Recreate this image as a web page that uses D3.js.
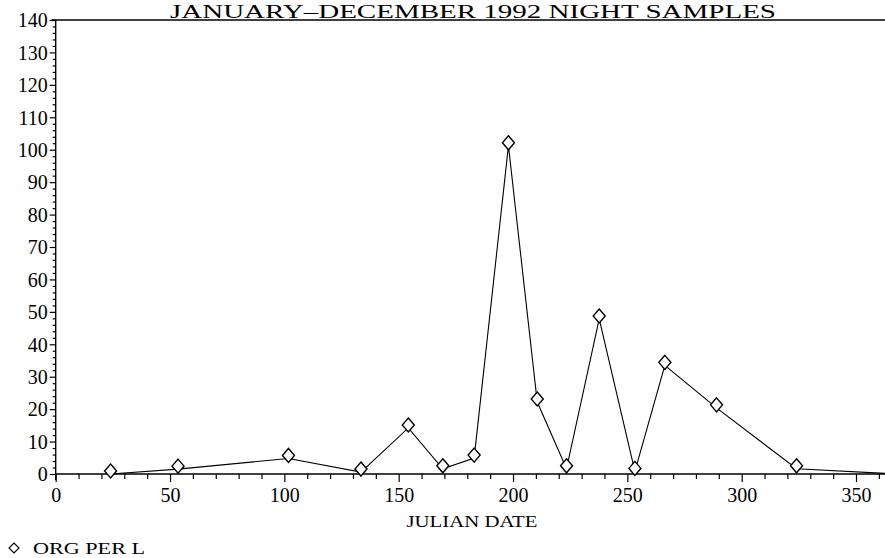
<!DOCTYPE html>
<html>
<head>
<meta charset="utf-8">
<script src="https://cdn.jsdelivr.net/npm/d3@7"></script>
<style>
  body { margin: 0; background: #fff; }
  text { font-family: "Liberation Serif", "DejaVu Serif", serif; fill: #000; }
</style>
</head>
<body>
<svg id="chart" width="885" height="558"></svg>
<script>
// julian day of each night sample, and organisms per litre
var days   = [24, 53.5, 101.8, 133.5, 154.2, 169.3, 183, 198, 210.6, 223.4, 237.7, 253.3, 266.4, 289, 324, 368];
var values = [0, 1.5, 4.8, 0.6, 14.2, 1.6, 4.9, 101.2, 22.2, 1.6, 47.8, 0.8, 33.5, 20.4, 1.6, 0];
var xTicks = [0, 50, 100, 150, 200, 250, 300, 350];
var yTicks = d3.range(0, 141, 10);

var title = 'JANUARY\u2013DECEMBER 1992 NIGHT SAMPLES';
var xTitle = 'JULIAN DATE';
var legendLabel = 'ORG PER L';

var svg = d3.select('#chart');
var x0 = 55.7, yBase = 474, yTop = 20;

var x = d3.scaleLinear().domain([0, 350]).range([x0, 856]);
var y = d3.scaleLinear().domain([0, 140]).range([yBase, yTop]);

// title
svg.append('text')
	.attr('x', 473).attr('y', 18)
	.attr('text-anchor', 'middle')
	.attr('textLength', 606)
	.attr('lengthAdjust', 'spacingAndGlyphs')
	.style('font-size', '19px')
	.text(title);

// frame lines
svg.append('line').attr('x1', x0 - 4).attr('x2', 885).attr('y1', yTop).attr('y2', yTop)
	.attr('stroke', '#000').attr('stroke-width', 1.6);
svg.append('line').attr('x1', x0).attr('x2', 885).attr('y1', yBase).attr('y2', yBase)
	.attr('stroke', '#000').attr('stroke-width', 1.6);
svg.append('line').attr('x1', x0).attr('x2', x0).attr('y1', yTop).attr('y2', yBase + 6)
	.attr('stroke', '#000').attr('stroke-width', 1.4);

// y axis
var yAxis = d3.axisLeft(y).tickValues(yTicks).tickSize(6).tickPadding(2);
var gy = svg.append('g').attr('transform', 'translate(' + x0 + ',0)').call(yAxis);
gy.select('.domain').remove();
gy.selectAll('text').style('font-size', '20px').style('font-family', '"Liberation Serif", serif').attr('dy', '0.34em');

var yMinor = d3.axisLeft(y).tickValues(d3.range(0, 141, 2).filter(d => d % 10)).tickSize(3).tickFormat('');
var gym = svg.append('g').attr('transform', 'translate(' + x0 + ',0)').call(yMinor);
gym.select('.domain').remove();

// x axis
var xAxis = d3.axisBottom(x).tickValues(xTicks).tickSize(8).tickPadding(6);
var gx = svg.append('g').attr('transform', 'translate(0,' + yBase + ')').call(xAxis);
gx.select('.domain').remove();
gx.selectAll('text').style('font-size', '20px').style('font-family', '"Liberation Serif", serif');

var xMinor = d3.axisBottom(x).tickValues(d3.range(10, 361, 10).filter(d => d % 50)).tickSize(5).tickFormat('');
var gxm = svg.append('g').attr('transform', 'translate(0,' + yBase + ')').call(xMinor);
gxm.select('.domain').remove();

svg.selectAll('.tick line').attr('stroke-width', 1.2);

svg.append('text')
	.attr('x', 472).attr('y', 527)
	.attr('text-anchor', 'middle')
	.attr('textLength', 131)
	.attr('lengthAdjust', 'spacingAndGlyphs')
	.style('font-size', '17px')
	.text(xTitle);

// series line
var pts = days.map((d, i) => [x(d), y(values[i])]);
var line = d3.line().x(d => d[0]).y(d => d[1]);
svg.append('path').datum(pts)
	.attr('d', line)
	.attr('fill', 'none')
	.attr('stroke', '#000')
	.attr('stroke-width', 1.1);

// diamond markers, drawn slightly above the point like the original plotter
var diamond = 'M0,-7L6,0L0,7L-6,0Z';
svg.selectAll('.marker').data(pts).enter().append('path')
	.attr('class', 'marker')
	.attr('d', diamond)
	.attr('transform', d => 'translate(' + d[0] + ',' + (d[1] - 3) + ')')
	.attr('fill', '#fff')
	.attr('stroke', '#000')
	.attr('stroke-width', 1.4);

// legend
svg.append('path')
	.attr('d', 'M0,-5L5,0L0,5L-5,0Z')
	.attr('transform', 'translate(14,548)')
	.attr('fill', 'none')
	.attr('stroke', '#000')
	.attr('stroke-width', 1.1);
svg.append('text')
	.attr('x', 33).attr('y', 554)
	.attr('textLength', 112)
	.attr('lengthAdjust', 'spacingAndGlyphs')
	.style('font-size', '16px')
	.text(legendLabel);
</script>
</body>
</html>
